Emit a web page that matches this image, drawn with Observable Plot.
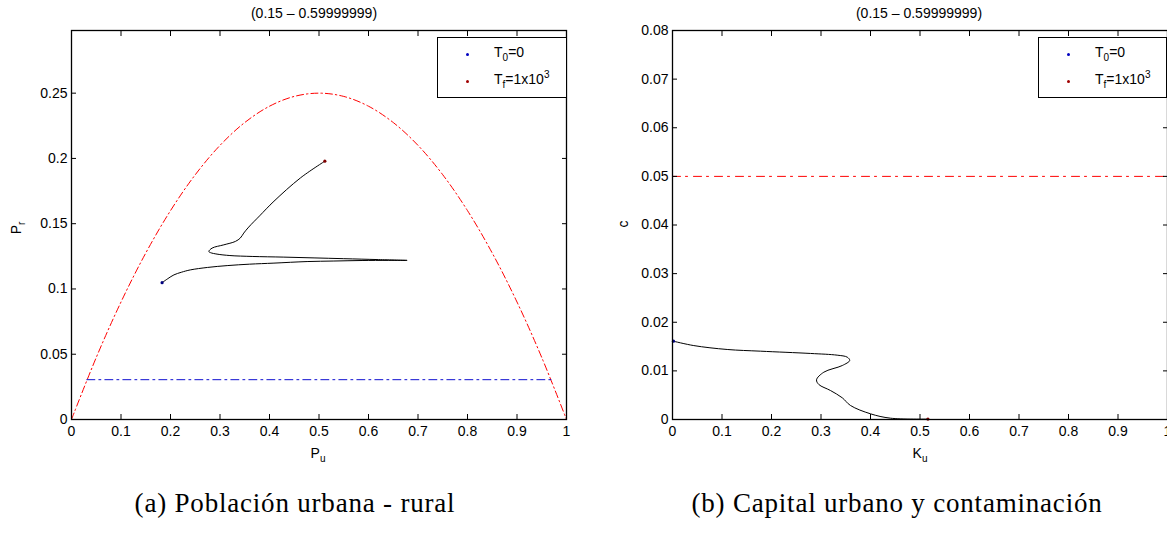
<!DOCTYPE html>
<html><head><meta charset="utf-8">
<script src="https://cdn.jsdelivr.net/npm/d3@7"></script>
<script src="https://cdn.jsdelivr.net/npm/@observablehq/plot@0.6"></script>
<style>
html,body{margin:0;padding:0;background:#fff;overflow:hidden;width:1167px;height:540px;}
#root{position:relative;width:1167px;height:540px;font-family:"Liberation Sans",Arial,sans-serif;color:#000;}
.abs{position:absolute;white-space:nowrap;line-height:1;}
.title{font-size:14px;transform:translate(-50%,-50%);}
.alab{font-size:14px;transform:translate(-50%,-50%);}
.rot{transform:translate(-50%,-50%) rotate(-90deg);}
.cap{font-family:"Liberation Serif","Times New Roman",serif;font-size:27px;letter-spacing:0.8px;transform:translateX(-50%);}
.legend{box-sizing:border-box;border:1px solid #000;background:#fff;}
.ldot{position:absolute;width:3px;height:3px;border-radius:50%;}
.ltxt{position:absolute;font-size:14px;line-height:1;white-space:nowrap;}
sub,sup{font-size:10px;line-height:0;}
svg{position:absolute;top:0;}
</style></head><body><div id="root"></div>
<script>
// ---- data ----
const xTicks = [0, 0.1, 0.2, 0.3, 0.4, 0.5, 0.6, 0.7, 0.8, 0.9, 1];
const prTicks = [0, 0.05, 0.1, 0.15, 0.2, 0.25];
const cTicks = [0, 0.01, 0.02, 0.03, 0.04, 0.05, 0.06, 0.07, 0.08];

// Panel (a): trajectory P_u vs P_r (from T0 to Tf)
const puTraj = [0.183, 0.195, 0.207, 0.222, 0.240, 0.275, 0.3145, 0.36, 0.409, 0.476, 0.53, 0.587, 0.64, 0.678,
                0.62, 0.55, 0.49, 0.429, 0.365, 0.32, 0.294, 0.281, 0.2774, 0.284, 0.3077, 0.331, 0.341, 0.348, 0.358, 0.38, 0.409, 0.4626, 0.5118];
const prTraj = [0.1048, 0.108, 0.1108, 0.1128, 0.1146, 0.1165, 0.1179, 0.119, 0.1198, 0.121, 0.1214, 0.1218, 0.1219, 0.1219,
                0.1225, 0.1232, 0.1238, 0.1244, 0.1249, 0.1256, 0.1267, 0.1278, 0.1287, 0.1313, 0.1338, 0.1364, 0.139, 0.1428, 0.1474, 0.156, 0.1672, 0.1851, 0.1979];

// Panel (a): upper boundary curve
const boundPu = [0, 0.05, 0.1, 0.15, 0.2, 0.25, 0.3, 0.35, 0.4, 0.45, 0.5, 0.55, 0.6, 0.65, 0.7, 0.75, 0.8, 0.85, 0.9, 0.95, 1];
const boundPr = [0, 0.0475, 0.09, 0.1275, 0.16, 0.1875, 0.21, 0.2275, 0.24, 0.2475, 0.25, 0.2475, 0.24, 0.2275, 0.21, 0.1875, 0.16, 0.1275, 0.09, 0.0475, 0];

// Panel (a): lower horizontal level
const levelPu = [0.031, 0.969];
const levelPr = [0.0305, 0.0305];

// Panel (b): trajectory K_u vs c
const kuTraj = [0.002, 0.043, 0.1105, 0.178, 0.279, 0.3327, 0.353, 0.358, 0.343, 0.3057, 0.291, 0.2956, 0.319, 0.343, 0.3596, 0.40, 0.4404, 0.516];
const cTraj  = [0.0161, 0.0152, 0.0144, 0.01405, 0.01358, 0.01323, 0.01282, 0.01214, 0.0111, 0.00973, 0.00816, 0.0072, 0.00597, 0.00446, 0.00288, 0.00117, 0.00027, 0.00008];

// Panel (b): level line
const cLevelKu = [0, 1];
const cLevelC = [0.05, 0.05];

const panelTitle = "(0.15 – 0.59999999)";
const captions = ["(a) Población urbana - rural", "(b) Capital urbano y contaminación"];

// ---- helpers ----
const pts = (xs, ys) => xs.map((x, i) => ({x, y: ys[i]}));
const first = a => [a[0]];
const last = a => [a[a.length - 1]];
const T0 = "#00007f", TF = "#7f0000";

function axes(ticksX, ticksY) {
  return [
    Plot.frame({stroke: "#000", strokeWidth: 1.3}),
    Plot.axisX(ticksX, {anchor: "bottom", tickSize: -5, tickPadding: 12, tickFormat: d => String(d), label: null, stroke: "#000"}),
    Plot.axisX(ticksX, {anchor: "top", tickSize: -5, tickFormat: () => "", label: null, stroke: "#000"}),
    Plot.axisY(ticksY, {anchor: "left", tickSize: -5, tickPadding: 9, tickFormat: d => String(d), label: null, stroke: "#000"}),
    Plot.axisY(ticksY, {anchor: "right", tickSize: -5, tickFormat: () => "", label: null, stroke: "#000"})
  ];
}
const style = {fontFamily: "'Liberation Sans', Arial, sans-serif", fontSize: "14px", color: "#000", background: "transparent", overflow: "visible"};

const left = Plot.plot({
  width: 600, height: 470,
  marginLeft: 71, marginRight: 34, marginTop: 30, marginBottom: 51,
  x: {domain: [0, 1]},
  y: {domain: [0, 0.298]},
  style,
  marks: [
    Plot.line(pts(boundPu, boundPr), {x: "x", y: "y", stroke: "red", strokeWidth: 1, strokeDasharray: "7,3,1.5,3", curve: "catmull-rom"}),
    Plot.line(pts(levelPu, levelPr), {x: "x", y: "y", stroke: "#1010d0", strokeWidth: 1, strokeDasharray: "8,4,2,4"}),
    Plot.line(pts(puTraj, prTraj), {x: "x", y: "y", stroke: "#000", strokeWidth: 1, curve: "catmull-rom"}),
    Plot.dot(pts(first(puTraj), first(prTraj)), {x: "x", y: "y", r: 1.6, fill: T0}),
    Plot.dot(pts(last(puTraj), last(prTraj)), {x: "x", y: "y", r: 1.6, fill: TF}),
    ...axes(xTicks, prTicks)
  ]
});

const right = Plot.plot({
  width: 600, height: 470,
  marginLeft: 72, marginRight: 33, marginTop: 30, marginBottom: 51,
  x: {domain: [0, 1]},
  y: {domain: [0, 0.08]},
  style,
  marks: [
    Plot.line(pts(cLevelKu, cLevelC), {x: "x", y: "y", stroke: "red", strokeWidth: 1, strokeDasharray: "8,5,2,6"}),
    Plot.line(pts(kuTraj, cTraj), {x: "x", y: "y", stroke: "#000", strokeWidth: 1, curve: "catmull-rom"}),
    Plot.dot(pts(first(kuTraj), first(cTraj)), {x: "x", y: "y", r: 1.6, fill: T0}),
    Plot.dot(pts(last(kuTraj), last(cTraj)), {x: "x", y: "y", r: 1.6, fill: TF}),
    ...axes(xTicks, cTicks)
  ]
});

const root = document.getElementById("root");
left.style.left = "0px";
right.style.left = "600px";
root.appendChild(left);
root.appendChild(right);

function add(html, cls, css) {
  const d = document.createElement("div");
  d.className = "abs " + cls;
  d.innerHTML = html;
  Object.assign(d.style, css);
  root.appendChild(d);
  return d;
}
// titles
add(panelTitle, "title", {left: "314px", top: "13px"});
add(panelTitle, "title", {left: "919px", top: "13px"});
// axis labels
add("P<sub>u</sub>", "alab", {left: "318px", top: "453px"});
add("K<sub>u</sub>", "alab", {left: "920px", top: "453px"});
add("P<sub>r</sub>", "alab rot", {left: "16px", top: "228px"});
add("c", "alab rot", {left: "623px", top: "224px"});
// legends
function legend(x, y, w, h) {
  const d = add("", "legend", {left: x + "px", top: y + "px", width: w + "px", height: h + "px"});
  d.innerHTML =
    `<div class="ldot" style="left:28px;top:15px;background:#0000c0"></div>` +
    `<div class="ltxt" style="left:56px;top:7px">T<sub>0</sub>=0</div>` +
    `<div class="ldot" style="left:28px;top:42px;background:#a00000"></div>` +
    `<div class="ltxt" style="left:56px;top:34px">T<sub>f</sub>=1x10<sup>3</sup></div>`;
}
legend(437, 37, 130, 61);
legend(1038, 37, 129, 61);
// captions
add(captions[0], "cap", {left: "295px", top: "490px"});
add(captions[1], "cap", {left: "897px", top: "490px"});
</script>
</body></html>
